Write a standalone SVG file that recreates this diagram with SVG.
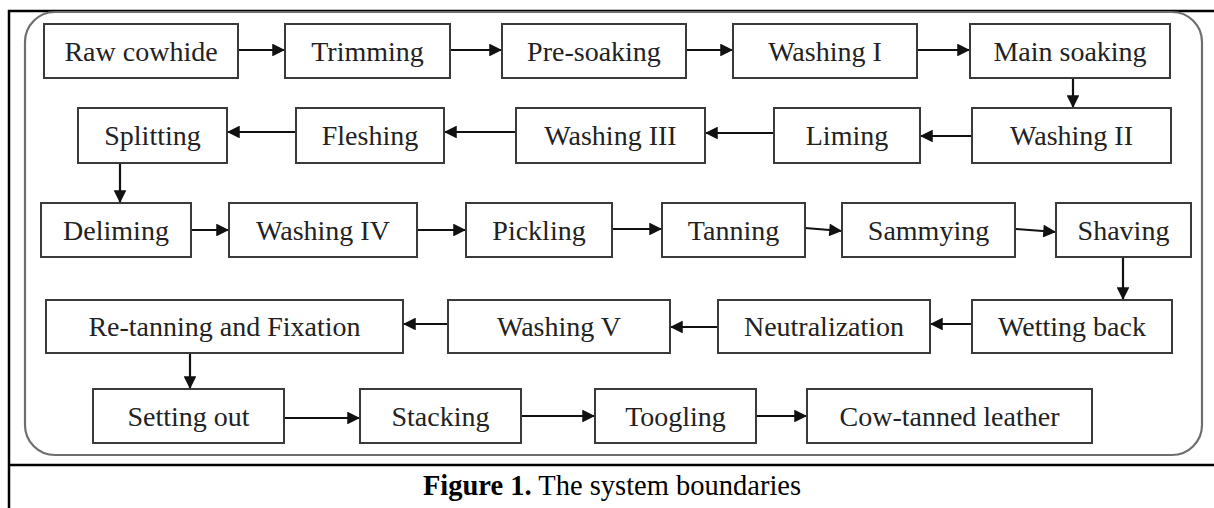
<svg xmlns="http://www.w3.org/2000/svg" width="1214" height="508" viewBox="0 0 1214 508">
<style>
.frame{stroke:#000;stroke-width:2.5;fill:none}
.bound{fill:none;stroke:#6e6e6e;stroke-width:2.2}
.box{fill:#fff;stroke:#3a3a3a;stroke-width:2}
.lbl{font-family:"Liberation Serif","Times New Roman",serif;font-size:28px;fill:#222;text-anchor:middle}
.cn{stroke:#111;stroke-width:2.2;fill:none;marker-end:url(#ah)}
.cap{font-family:"Liberation Serif","Times New Roman",serif;font-size:28.5px;fill:#000;text-anchor:middle}
</style>
<defs>
<marker id="ah" viewBox="0 0 10 10" refX="10" refY="5" markerWidth="6.5" markerHeight="5.8" orient="auto" markerUnits="strokeWidth">
<path d="M0,0 L10,5 L0,10 z" fill="#111"/>
</marker>
</defs>
<rect width="1214" height="508" fill="#fff"/>
<g id="frame">
<path class="frame" d="M9,508 V11 H1214"/>
<path class="frame" d="M9,465 H1214"/>
</g>
<rect id="boundary" class="bound" x="25" y="12" width="1177" height="443" rx="30" ry="30"/>
<g id="connectors">
<line class="cn" x1="238" y1="50" x2="285" y2="50"/>
<line class="cn" x1="450" y1="50" x2="502" y2="50"/>
<line class="cn" x1="686" y1="50" x2="733" y2="50"/>
<line class="cn" x1="917" y1="50" x2="970" y2="50"/>
<line class="cn" x1="1073" y1="78" x2="1073" y2="108"/>
<line class="cn" x1="972" y1="136" x2="920" y2="136"/>
<line class="cn" x1="774" y1="133" x2="705" y2="133"/>
<line class="cn" x1="516" y1="132" x2="444" y2="132"/>
<line class="cn" x1="296" y1="132" x2="227" y2="132"/>
<line class="cn" x1="120" y1="163" x2="120" y2="203"/>
<line class="cn" x1="191" y1="230" x2="229" y2="230"/>
<line class="cn" x1="417" y1="230" x2="466" y2="230"/>
<line class="cn" x1="612" y1="229" x2="662" y2="229"/>
<line class="cn" x1="805" y1="228" x2="842" y2="231"/>
<line class="cn" x1="1016" y1="229" x2="1056" y2="232"/>
<line class="cn" x1="1123" y1="257" x2="1123" y2="300"/>
<line class="cn" x1="972" y1="324" x2="930" y2="324"/>
<line class="cn" x1="718" y1="327" x2="670" y2="327"/>
<line class="cn" x1="448" y1="324" x2="403" y2="324"/>
<line class="cn" x1="190" y1="353" x2="190" y2="389"/>
<line class="cn" x1="284" y1="418" x2="360" y2="418"/>
<line class="cn" x1="521" y1="416" x2="595" y2="416"/>
<line class="cn" x1="756" y1="416" x2="807" y2="416"/>
</g>
<g id="n1"><rect class="box" x="44" y="24" width="194" height="54"/><text class="lbl" x="141" y="61">Raw cowhide</text></g>
<g id="n2"><rect class="box" x="285" y="24" width="165" height="54"/><text class="lbl" x="367.5" y="61">Trimming</text></g>
<g id="n3"><rect class="box" x="502" y="24" width="184" height="54"/><text class="lbl" x="594" y="61">Pre-soaking</text></g>
<g id="n4"><rect class="box" x="733" y="24" width="184" height="54"/><text class="lbl" x="825" y="61">Washing I</text></g>
<g id="n5"><rect class="box" x="970" y="24" width="200" height="54"/><text class="lbl" x="1070" y="61">Main soaking</text></g>
<g id="n6"><rect class="box" x="972" y="108" width="199" height="55"/><text class="lbl" x="1071.5" y="145">Washing II</text></g>
<g id="n7"><rect class="box" x="774" y="108" width="146" height="55"/><text class="lbl" x="847" y="145">Liming</text></g>
<g id="n8"><rect class="box" x="516" y="108" width="189" height="55"/><text class="lbl" x="610.5" y="145">Washing III</text></g>
<g id="n9"><rect class="box" x="296" y="108" width="148" height="55"/><text class="lbl" x="370" y="145">Fleshing</text></g>
<g id="n10"><rect class="box" x="78" y="108" width="149" height="55"/><text class="lbl" x="152.5" y="145">Splitting</text></g>
<g id="n11"><rect class="box" x="41" y="203" width="150" height="54"/><text class="lbl" x="116" y="240">Deliming</text></g>
<g id="n12"><rect class="box" x="229" y="203" width="188" height="54"/><text class="lbl" x="323" y="240">Washing IV</text></g>
<g id="n13"><rect class="box" x="466" y="203" width="146" height="54"/><text class="lbl" x="539" y="240">Pickling</text></g>
<g id="n14"><rect class="box" x="662" y="203" width="143" height="54"/><text class="lbl" x="733.5" y="240">Tanning</text></g>
<g id="n15"><rect class="box" x="842" y="203" width="173" height="54"/><text class="lbl" x="928.5" y="240">Sammying</text></g>
<g id="n16"><rect class="box" x="1056" y="203" width="135" height="54"/><text class="lbl" x="1123.5" y="240">Shaving</text></g>
<g id="n17"><rect class="box" x="972" y="300" width="200" height="53"/><text class="lbl" x="1072" y="336">Wetting back</text></g>
<g id="n18"><rect class="box" x="718" y="300" width="212" height="53"/><text class="lbl" x="824" y="336">Neutralization</text></g>
<g id="n19"><rect class="box" x="448" y="300" width="222" height="53"/><text class="lbl" x="559" y="336">Washing V</text></g>
<g id="n20"><rect class="box" x="46" y="300" width="357" height="53"/><text class="lbl" x="224.5" y="336">Re-tanning and Fixation</text></g>
<g id="n21"><rect class="box" x="93" y="389" width="191" height="54"/><text class="lbl" x="188.5" y="426">Setting out</text></g>
<g id="n22"><rect class="box" x="360" y="389" width="161" height="54"/><text class="lbl" x="440.5" y="426">Stacking</text></g>
<g id="n23"><rect class="box" x="595" y="389" width="161" height="54"/><text class="lbl" x="675.5" y="426">Toogling</text></g>
<g id="n24"><rect class="box" x="807" y="389" width="285" height="54"/><text class="lbl" x="949.5" y="426">Cow-tanned leather</text></g>
<text id="caption" class="cap" x="612" y="495"><tspan font-weight="bold">Figure 1.</tspan> The system boundaries</text>
</svg>
